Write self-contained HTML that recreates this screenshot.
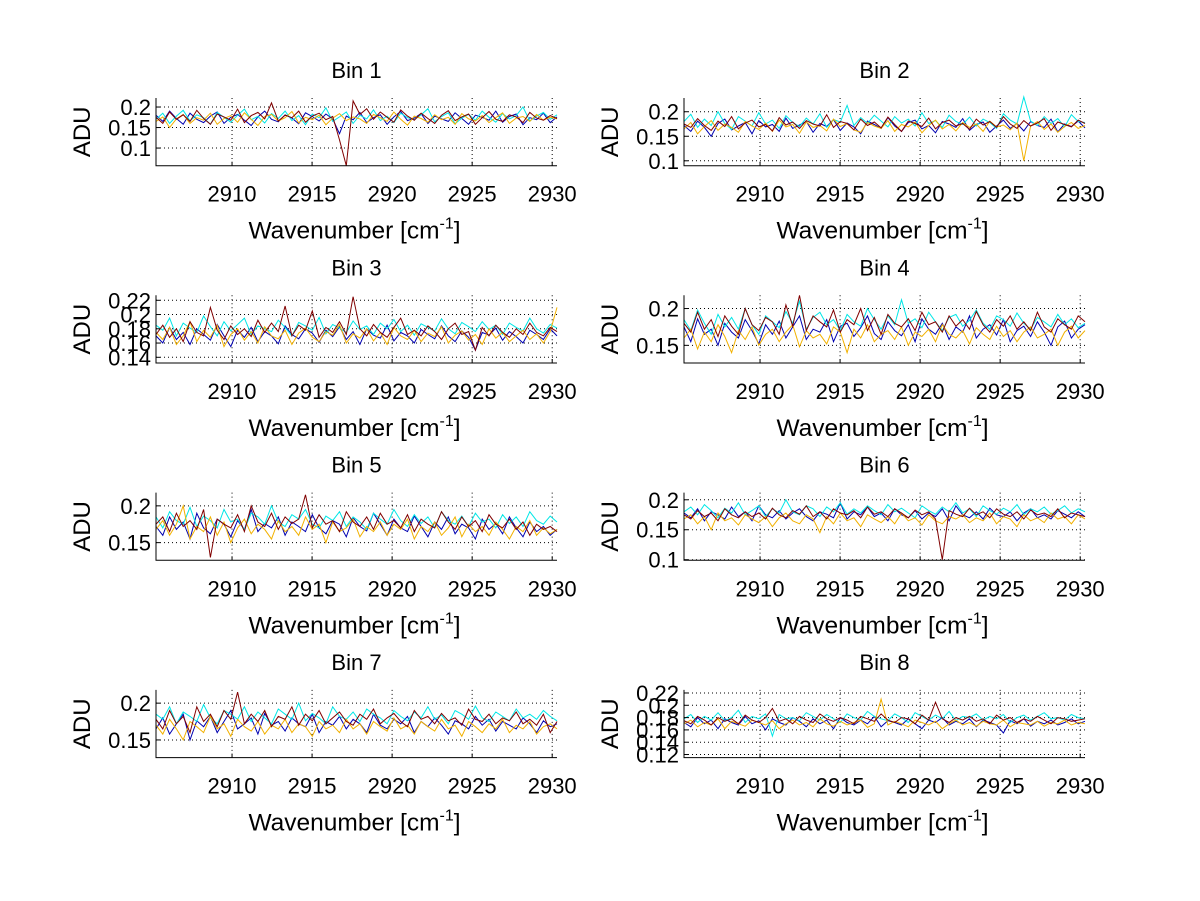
<!DOCTYPE html>
<html><head><meta charset="utf-8"><style>
html,body{margin:0;padding:0;background:#fff;}
svg{display:block;font-family:"Liberation Sans",Arial,sans-serif;}
</style></head><body>
<svg id="fig" width="1200" height="901" viewBox="0 0 1200 901" xmlns="http://www.w3.org/2000/svg">
<rect width="1200" height="901" fill="#fff"/>
</svg>
<script>
const xTicks=[2910,2915,2920,2925,2930];
const xDomain=[2905.25,2930.3];
const binTitles=["Bin 1","Bin 2","Bin 3","Bin 4","Bin 5","Bin 6","Bin 7","Bin 8"];
const yDomains=[[0.057,0.222],[0.09,0.228],[0.132,0.227],[0.126,0.218],[0.126,0.218],[0.099,0.212],[0.126,0.218],[0.115,0.225]];
const yTicks=[[0.1,0.15,0.2],[0.1,0.15,0.2],[0.14,0.16,0.18,0.2,0.22],[0.15,0.2],[0.15,0.2],[0.1,0.15,0.2],[0.15,0.2],[0.12,0.14,0.16,0.18,0.2,0.22]];
const seriesNames=["blue","cyan","orange","red"];
const seriesColors=["#0000b0","#00e6e6","#f2b100","#800000"];
// values in milli-ADU
const b1Blue=[180,165,190,172,158,185,170,162,178,188,160,175,182,168,155,176,190,170,164,181,173,159,186,177,166,183,171,135,178,169,187,162,174,181,158,176,189,167,173,184,160,178,171,165,186,172,158,180,175,168,190,163,177,183,157,174,169,185,162,176];
const b1Cyan=[170,185,160,178,192,166,181,174,158,187,175,163,180,195,169,177,161,184,172,190,167,179,157,183,174,198,165,176,188,160,180,171,193,167,178,162,185,174,169,181,196,164,177,186,159,173,182,168,190,175,163,184,171,179,200,166,178,187,170,181];
const b1Orange=[165,176,150,171,182,160,174,168,185,158,172,179,163,186,170,155,177,182,166,174,189,161,175,169,180,157,173,184,167,176,171,160,182,174,165,188,170,156,178,172,163,181,169,175,158,184,171,166,179,162,174,186,160,173,177,165,182,168,175,171];
const b1Red=[175,160,188,170,181,165,192,172,158,183,176,168,195,162,179,187,171,210,166,180,174,190,163,178,185,169,177,120,57,215,182,196,170,188,175,163,193,178,168,185,172,160,180,191,167,176,183,158,174,189,170,165,181,176,162,187,173,168,179,172];
const b2Blue=[172,160,181,168,150,176,185,163,171,178,155,182,169,174,160,187,166,173,180,158,176,170,184,162,177,169,155,181,174,166,188,171,160,178,183,165,172,157,180,175,168,186,162,174,179,158,171,183,166,176,161,180,172,168,185,159,175,170,181,167];
const b2Cyan=[180,195,168,185,172,200,176,164,190,181,171,198,175,183,166,192,178,170,187,175,196,168,184,179,213,172,188,176,193,181,169,190,177,185,171,198,176,182,168,193,180,174,189,171,185,178,166,196,183,175,230,181,172,190,176,186,169,194,180,178];
const b2Orange=[165,178,155,170,182,162,175,168,158,180,171,164,177,160,183,169,174,156,179,168,172,161,185,170,176,163,158,178,171,166,182,160,174,169,179,157,172,183,165,174,161,178,168,175,160,181,169,173,163,177,100,171,180,164,175,158,170,178,166,172];
const b2Red=[175,168,186,172,162,181,170,190,165,177,183,169,174,161,188,173,179,166,182,175,171,194,168,180,176,163,185,172,179,167,189,174,160,181,176,170,187,165,178,183,171,176,164,185,173,180,168,190,175,166,182,171,177,186,162,179,174,169,183,176];
const b3Blue=[170,160,182,165,175,158,180,172,164,186,170,155,178,168,182,162,176,170,159,184,172,166,180,174,161,178,169,183,165,176,158,180,171,167,185,163,175,170,160,179,172,166,184,170,162,177,168,150,175,171,181,164,176,169,160,178,172,165,180,170];
const b3Cyan=[185,178,195,170,188,181,175,198,183,170,190,177,186,195,172,184,180,176,192,182,170,189,184,178,196,173,186,181,175,191,179,184,172,188,180,193,176,185,171,187,182,177,194,180,173,189,183,176,190,179,185,172,188,182,177,195,180,174,186,181];
const b3Orange=[175,165,182,158,170,190,162,178,168,185,155,172,180,164,176,160,183,170,166,178,158,174,181,168,162,176,171,186,160,173,167,180,163,175,158,182,170,165,178,162,174,169,183,160,171,177,164,172,158,180,167,175,162,170,178,165,173,160,176,210];
const b3Red=[172,185,168,180,162,190,175,170,210,178,165,184,172,180,169,192,175,188,176,212,170,185,178,205,168,182,175,190,172,225,180,170,186,175,168,182,195,172,178,170,184,176,165,180,188,172,176,150,182,170,185,175,168,180,172,188,175,170,182,176];
const b4Blue=[175,155,186,165,172,150,180,168,160,185,170,152,178,165,183,160,175,190,158,172,168,185,155,176,180,162,174,190,166,158,182,170,163,178,155,186,172,165,180,158,175,168,190,160,172,178,164,185,155,170,176,162,182,168,150,175,183,160,172,178];
const b4Cyan=[185,170,198,180,165,192,175,188,172,200,178,165,190,182,174,196,180,210,172,188,195,178,185,170,192,182,176,200,185,172,190,178,212,180,186,174,195,182,170,188,192,176,184,198,180,172,190,185,176,194,180,172,188,182,175,192,178,186,174,180];
const b4Orange=[160,172,145,168,155,178,162,140,170,158,175,150,165,172,155,168,178,148,170,160,165,152,175,168,140,172,160,178,155,165,170,158,175,150,168,162,172,155,178,165,160,170,152,174,165,158,176,162,170,155,168,175,160,165,172,150,168,176,160,170];
const b4Red=[180,168,195,172,185,162,190,176,165,200,178,170,188,182,165,205,176,218,170,190,182,175,198,168,185,178,200,170,188,165,192,180,175,186,170,195,178,182,168,190,176,185,172,196,178,168,185,176,190,172,182,170,195,175,168,186,178,172,190,182];
const b5Blue=[172,160,185,168,178,155,190,170,162,182,175,158,180,168,195,165,176,170,185,160,178,172,165,188,170,162,180,175,158,184,172,166,190,175,160,182,170,165,186,172,158,178,168,185,162,175,170,155,182,168,176,162,185,170,158,178,165,172,160,168];
const b5Cyan=[185,170,192,180,175,198,172,186,180,170,195,178,182,168,190,185,175,200,178,172,188,182,195,175,170,186,180,192,172,185,178,168,190,182,175,195,180,172,188,176,185,170,192,180,175,186,172,190,178,182,170,188,176,185,172,192,180,175,186,178];
const b5Orange=[168,180,160,175,200,155,172,165,185,160,178,150,170,182,162,175,168,155,180,165,172,160,185,168,175,150,178,165,170,182,158,172,165,178,160,175,168,182,155,172,165,178,160,170,185,158,175,165,172,160,178,168,155,172,165,180,160,170,162,168];
const b5Red=[175,185,165,190,172,180,168,195,130,182,175,170,188,165,200,178,172,190,168,185,176,182,215,170,188,175,180,165,192,178,172,185,168,190,175,180,170,188,165,182,175,170,192,178,168,185,172,180,165,188,175,170,182,168,178,160,175,168,172,165];
const b6Blue=[178,170,185,165,180,175,168,188,172,180,165,190,175,170,182,168,178,185,172,165,180,176,170,195,168,180,175,188,172,178,165,185,175,170,182,168,178,172,185,165,190,175,170,180,168,186,175,172,180,165,178,185,170,175,168,182,176,170,180,172];
const b6Cyan=[180,188,175,192,182,170,186,178,195,175,182,190,172,185,178,200,180,175,190,185,172,188,180,195,176,185,178,190,182,175,192,180,186,178,170,190,182,176,188,180,195,178,185,172,190,182,176,186,180,192,175,185,180,188,176,182,190,178,185,180];
const b6Orange=[168,175,160,172,150,178,165,170,158,175,168,162,172,155,170,178,165,160,175,168,145,172,160,178,165,170,155,175,168,162,172,160,178,165,170,158,175,165,160,172,168,175,162,170,165,178,160,172,168,155,175,165,170,162,178,168,172,160,175,168];
const b6Red=[175,168,182,172,178,165,185,175,170,180,172,178,168,186,175,170,182,176,190,172,180,168,185,178,175,182,170,188,176,180,172,185,178,170,183,175,180,168,100,182,176,172,186,175,180,170,185,176,172,180,168,183,175,178,172,185,170,178,175,172];
const b7Blue=[165,180,158,172,185,150,176,168,182,160,175,190,165,172,180,158,186,170,175,162,180,172,168,185,160,175,170,182,165,178,172,160,185,170,165,178,172,182,160,175,168,180,170,158,176,172,165,182,170,178,162,175,170,165,180,172,160,176,168,172];
const b7Cyan=[185,178,195,172,188,182,175,198,180,172,190,185,178,195,175,188,180,172,192,185,178,200,176,186,180,172,195,182,178,188,175,192,185,180,172,190,182,176,188,180,195,178,184,172,190,185,178,196,180,175,188,182,176,192,180,185,178,190,182,176];
const b7Orange=[170,158,178,165,150,175,168,160,182,165,172,155,178,168,162,175,158,170,165,178,160,172,168,155,175,165,170,160,178,165,172,158,175,168,162,180,165,170,158,175,168,162,178,165,170,155,175,168,160,172,165,178,160,170,165,175,158,168,172,165];
const b7Red=[178,165,190,172,182,160,195,175,185,168,190,178,215,172,185,175,190,168,182,178,195,170,185,176,190,172,180,188,175,170,185,178,192,172,180,186,175,168,190,178,182,172,186,176,180,170,192,178,175,185,172,180,176,188,172,178,170,185,160,175];
const b8Blue=[172,165,180,170,176,162,178,172,168,182,170,175,160,178,172,168,180,174,165,178,170,176,162,180,172,168,176,170,182,165,175,172,168,178,170,162,176,172,180,168,174,170,178,165,176,172,168,155,175,170,178,166,174,170,176,168,172,178,170,174];
const b8Cyan=[178,185,172,182,176,188,175,180,192,172,182,178,186,150,185,178,180,175,188,182,176,185,178,172,186,180,176,190,182,178,175,186,180,172,188,182,176,184,178,190,175,182,180,186,176,182,178,185,172,180,184,176,182,188,178,180,176,185,180,178];
const b8Orange=[170,176,165,172,168,178,162,174,170,166,176,172,168,175,162,170,176,168,172,165,178,170,166,174,168,172,176,164,170,210,168,174,170,165,176,172,168,174,162,170,176,168,172,166,174,170,168,176,165,172,170,168,174,166,172,170,176,168,172,170];
const b8Red=[175,170,182,176,168,180,174,178,170,184,176,172,180,195,174,178,170,182,176,172,186,178,174,180,176,170,182,178,174,186,176,172,180,178,170,184,176,205,178,172,180,176,182,174,178,170,184,176,180,172,178,174,182,176,170,180,178,174,176,178];
const binSeries=[[b1Blue,b1Cyan,b1Orange,b1Red],[b2Blue,b2Cyan,b2Orange,b2Red],[b3Blue,b3Cyan,b3Orange,b3Red],[b4Blue,b4Cyan,b4Orange,b4Red],[b5Blue,b5Cyan,b5Orange,b5Red],[b6Blue,b6Cyan,b6Orange,b6Red],[b7Blue,b7Cyan,b7Orange,b7Red],[b8Blue,b8Cyan,b8Orange,b8Red]];

const NS="http://www.w3.org/2000/svg";
const svg=document.getElementById('fig');
function mk(tag,attrs,parent){const e=document.createElementNS(NS,tag);for(const k in attrs)e.setAttribute(k,attrs[k]);(parent||svg).appendChild(e);return e;}

binTitles.forEach((title,i)=>{
  const col=i%2,row=Math.floor(i/2);
  const L=156+528*col,R=L+401,T=98+197.3*row,B=165.7+197.3*row;
  const yd=yDomains[i];
  const xs=v=>L+(v-xDomain[0])/(xDomain[1]-xDomain[0])*(R-L);
  const ys=v=>B-(v-yd[0])/(yd[1]-yd[0])*(B-T);
  const g=mk('g',{});
  
  
  xTicks.forEach(t=>{const x=xs(t);const l=mk('line',{x1:x,x2:x,y1:T,y2:B,stroke:'#000','stroke-width':1,'stroke-dasharray':'1,3'},g);
    
    });
  yTicks[i].forEach(t=>{const y=ys(t);const l=mk('line',{x1:L,x2:R,y1:y,y2:y,stroke:'#000','stroke-width':1,'stroke-dasharray':'1,3'},g);
    
    });
  binSeries[i].forEach((arr,s)=>{
    const n=arr.length;
    const pts=arr.map((v,k)=>xs(xDomain[0]+k*(xDomain[1]-xDomain[0])/(n-1)).toFixed(1)+','+ys(v/1000).toFixed(1)).join(' ');
    const pl=mk('polyline',{points:pts,fill:'none',stroke:seriesColors[s],'stroke-width':1},g);
    
    
  });
  const ax=mk('path',{d:`M${L},${T}V${B}H${R}`,fill:'none',stroke:'#000','stroke-width':1},g);
  
  
  xTicks.forEach(t=>{const x=xs(t);
    mk('line',{x1:x,x2:x,y1:B,y2:B-4,stroke:'#000'},g);
    const tx=mk('text',{x:x,y:B+36,'text-anchor':'middle','font-size':22,fill:'#000'},g);tx.textContent=t;
    
    });
  yTicks[i].forEach(t=>{const y=ys(t);
    mk('line',{x1:L,x2:L+4,y1:y,y2:y,stroke:'#000'},g);
    const tx=mk('text',{x:L-5,y:y+8,'text-anchor':'end','font-size':22,fill:'#000'},g);tx.textContent=String(t);
    
    });
  const ti=mk('text',{x:(L+R)/2,y:T-20,'text-anchor':'middle','font-size':22,fill:'#000'},g);ti.textContent=title;
  
  
  const xl=mk('text',{x:(L+R)/2-2,y:B+73,'text-anchor':'middle','font-size':24.5,fill:'#000'},g);
  xl.innerHTML='Wavenumber [cm<tspan dy="-10" font-size="16">-1</tspan><tspan dy="10">]</tspan>';
  
  
  const yl=mk('text',{x:0,y:0,'text-anchor':'middle','font-size':24,fill:'#000',transform:`translate(${L-66},${(T+B)/2}) rotate(-90)`},g);
  yl.textContent='ADU';
  
  
});
</script>
</body></html>
